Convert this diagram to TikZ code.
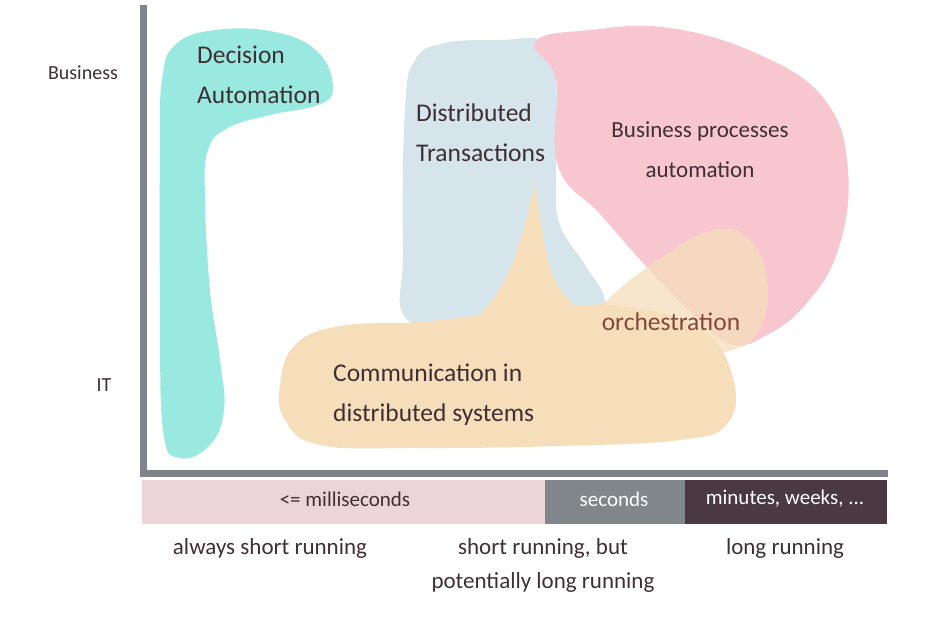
\documentclass[tikz,border=0pt]{standalone}
\usepackage{fontspec}
\setmainfont{Carlito}
\definecolor{tealc}{HTML}{99E9E0}
\definecolor{bluec}{HTML}{D6E5EB}
\definecolor{pinkc}{HTML}{F8C6CE}
\definecolor{orangec}{HTML}{F6DEBB}
\definecolor{inkc}{HTML}{3F2F35}
\definecolor{brownc}{HTML}{7E4A3A}
\definecolor{axisc}{HTML}{7E8489}
\definecolor{greybar}{HTML}{80868A}
\definecolor{darkbar}{HTML}{4A3940}
\definecolor{pinkbar}{HTML}{EBD5DA}
\begin{document}
\begin{tikzpicture}[x=1pt,y=-1pt,
  lbl/.style={font=\fontsize{25.5}{40}\selectfont, text=inkc, inner sep=0pt},
  axlbl/.style={font=\fontsize{20}{34}\selectfont, text=inkc, inner sep=0pt},
  botlbl/.style={font=\fontsize{23}{34}\selectfont, text=inkc, inner sep=0pt},
  barlbl/.style={font=\fontsize{21}{21}\selectfont, inner sep=0pt},
  blob/.style={smooth cycle, tension=0.7}]
\useasboundingbox (0,0) rectangle (933,616);
% blue
\fill[bluec] plot[blob] coordinates {(405,110) (415,60) (445,43) (500,40) (545,42) (556,80) (556,180) (560,225) (585,265) (605,300) (590,322) (500,328) (410,322) (403,250)};
% pink
\fill[pinkc] plot[blob] coordinates {(535,42) (590,30) (670,28) (760,55) (825,100) (848,170) (838,250) (805,305) (765,336) (730,344) (690,312) (645,265) (600,214) (558,166) (556,80)};
% teal
\fill[tealc] plot[blob] coordinates {(162,80) (175,45) (215,30) (275,32) (318,52) (333,88) (318,105) (270,115) (228,128) (208,150) (205,200) (210,290) (220,360) (224,410) (210,445) (180,458) (163,430) (160,300) (160,150)};
% communication
\fill[orangec] plot[blob] coordinates {(280,385) (295,345) (340,326) (420,322) (490,314) (560,308) (620,306) (700,328) (733,378) (727,424) (680,440) (560,446) (420,448) (320,445) (285,420)};
\fill[orangec] (450,330) .. controls (500,315) and (518,260) .. (535,183) .. controls (545,250) and (548,300) .. (590,312) -- (590,340) -- (450,340) -- cycle;
% orchestration
\fill[orangec, fill opacity=0.75] plot[blob] coordinates {(590,328) (605,302) (655,262) (713,230) (752,242) (768,288) (758,332) (732,350) (680,356) (620,350)};
% axes
\fill[axisc] (140,5) rectangle (147,477);
\fill[axisc] (140,470) rectangle (888,477);
% bottom bar
\fill[pinkbar] (142,480) rectangle (545,524);
\fill[greybar] (545,480) rectangle (685,524);
\fill[darkbar] (685,480) rectangle (887,524);
% labels
\node[lbl, anchor=west, align=left] (dec) at (197,75) {Decision\\Automation};
\node[lbl, anchor=west, align=left] (dtx) at (416,133) {Distributed\\Transactions};
\node[lbl, font=\fontsize{23}{40}\selectfont, align=center] (bpa) at (700,150) {Business processes\\automation};
\node[lbl, text=brownc] (orch) at (671,322) {orchestration};
\node[lbl, anchor=west, align=left] (com) at (333,395) {Communication in\\distributed systems};
\node[axlbl] (bus) at (83,73) {Business};
\node[axlbl] (it) at (104,385) {IT};
\node[barlbl, text=inkc] (ms) at (345,499) {<= milliseconds};
\node[barlbl, text=white] (sec) at (614,499) {seconds};
\node[barlbl, text=white] (min) at (785,499) {minutes, weeks, ...};
\node[botlbl] (asr) at (270,548) {always short running};
\node[botlbl, align=center] (srb) at (543,565) {short running, but\\potentially long running};
\node[botlbl] (lr) at (785,548) {long running};
\end{tikzpicture}
\end{document}
